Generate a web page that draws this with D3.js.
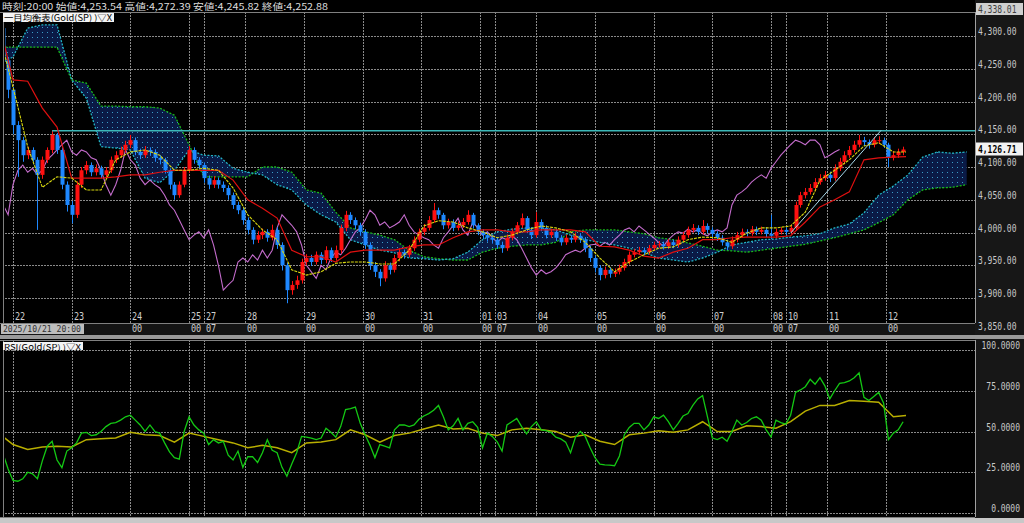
<!DOCTYPE html>
<html><head><meta charset="utf-8">
<script src="https://cdn.jsdelivr.net/npm/d3@7"></script>
<style>body{margin:0;background:#000;overflow:hidden}svg{display:block}</style>
</head><body><svg id="c" width="1024" height="523"></svg>
<script>
// ---------- data ----------
const headerText = "時刻:20:00 始値:4,253.54 高値:4,272.39 安値:4,245.82 終値:4,252.88";
const ichimokuTitle = "一目均衡表(Gold(SP) )▽X";
const rsiTitle = "RSI(Gold(SP) )▽X";
const dateBoxText = "2025/10/21 20:00";
const dayLabels  = ["22","23","24","25","27","28","29","30","31","01","03","04","05","06","07","08","10","11","12"];
const hourLabels = ["","","00","00","07","00","00","00","00","00","07","00","00","00","00","00","07","00","00"];
const dayHours   = [0,24,48,72,78,95,119,143,167,191,197,214,238,262,286,310,316,333,357];
const priceTicks = [3850,3900,3950,4000,4050,4100,4150,4200,4250,4300];
const rsiTicks = [0,25,50,75,100];
const topPrice = 4338.01;
const lastPrice = 4126.71;

// 2-hour candles starting at hour -4 (hour 0 = 10/22 00:00)
const candleStartHour = -4, candleStepHours = 2;
const firstOpen = 4312;
const closes = [4263,4218,4164,4141,4118,4126,4111,4088,4111,4126,
4149,4126,4073,4042,4027,4073,4095,4103,4092,4098,
4088,4095,4111,4118,4126,4134,4141,4123,4118,4126,
4123,4114,4111,4095,4073,4057,4073,4095,4126,4111,
4103,4083,4073,4080,4073,4068,4057,4042,4034,4019,
4004,3989,3996,4001,3992,4004,3981,3950,3912,3920,
3927,3955,3961,3955,3966,3958,3973,3961,3973,4007,
4027,4019,4011,4001,3981,3950,3940,3930,3950,3943,
3961,3970,3966,3976,3989,4001,4007,4019,4034,4027,
4011,4016,4007,4011,4016,4027,4011,4001,3996,3992,
3989,3981,3976,3992,4001,4011,4022,4004,3996,4016,
4007,3996,4001,3992,3985,3992,3989,3995,3989,3976,
3961,3946,3935,3943,3937,3940,3946,3955,3966,3970,
3973,3970,3976,3981,3982,3979,3985,3981,3989,3996,
4004,4007,4001,4010,4004,3998,3992,3985,3979,3989,
3996,4001,3999,4005,4001,4004,3998,3995,4001,4004,
4001,4007,4042,4057,4062,4068,4077,4083,4088,4083,
4098,4108,4118,4126,4134,4141,4138,4134,4141,4141,
4134,4114,4118,4123,4126.71];
const highs = [4318,4268,4222,4170,4146,4131,4130,4115,4116,4130,
4156,4152,4130,4078,4048,4078,4100,4109,4107,4104,
4102,4100,4116,4124,4131,4140,4149,4145,4128,4132,
4130,4127,4118,4114,4098,4077,4078,4100,4132,4130,
4115,4107,4087,4086,4084,4078,4072,4061,4047,4038,
4023,4008,4002,4006,4005,4012,4008,3985,3954,3926,
3934,3960,3967,3966,3971,3970,3979,3977,3980,4012,
4033,4031,4023,4015,4005,3985,3955,3944,3956,3954,
3966,3976,3974,3981,3994,4006,4013,4025,4045,4038,
4030,4021,4020,4017,4022,4034,4030,4014,4005,4000,
3996,3993,3986,3997,4006,4016,4029,4025,4008,4031,
4020,4011,4006,4005,3996,3997,3996,4000,3999,3993,
3980,3965,3950,3948,3947,3945,3951,3960,3971,3975,
3978,3977,3981,3986,3987,3986,3990,3989,3994,4001,
4009,4013,4011,4019,4014,4008,4002,3996,3989,3994,
4001,4006,4005,4010,4009,4009,4008,4027,4006,4008,
4008,4012,4047,4062,4068,4074,4083,4089,4094,4093,
4104,4114,4124,4132,4140,4149,4146,4142,4146,4147,
4145,4137,4124,4128,4131];
const lows = [4250,4205,4150,4085,4108,4112,4104,4004,4082,4106,
4121,4120,4066,4032,4014,4022,4068,4089,4086,4087,
4083,4084,4091,4106,4114,4122,4129,4118,4112,4114,
4117,4108,4104,4090,4066,4050,4053,4069,4091,4105,
4097,4076,4066,4068,4067,4062,4050,4036,4028,4012,
3997,3982,3984,3990,3986,3988,3975,3942,3892,3905,
3914,3922,3950,3949,3951,3952,3953,3955,3957,3968,
4002,4013,4005,3995,3975,3943,3932,3918,3925,3936,
3939,3956,3960,3962,3972,3985,3996,4003,4015,4021,
4005,4006,4002,4003,4007,4012,4006,3996,3990,3986,
3983,3975,3969,3972,3988,3997,4007,3999,3990,3992,
4002,3991,3992,3987,3980,3981,3984,3985,3984,3970,
3955,3939,3927,3930,3931,3932,3936,3942,3951,3962,
3966,3965,3966,3972,3977,3974,3975,3976,3977,3985,
3992,4000,3996,3997,3999,3993,3987,3980,3973,3975,
3985,3992,3994,3995,3996,3997,3993,3990,3991,3997,
3996,3998,4003,4038,4052,4058,4063,4073,4079,4077,
4079,4094,4104,4114,4122,4130,4132,4128,4130,4135,
4129,4100,4110,4114,4118];

// Ichimoku lines, sampled every 6 hours from hour -6
const lineStartHour = -6, lineStepHours = 6;
const tenkan = [4309,4222,4131,4069,4085,4083,4065,4065,4111,4123,
4126,4118,4095,4095,4098,4095,4068,4027,4004,3989,
3943,3935,3940,3953,3955,3955,3952,3952,3973,4010,
4018,4016,4007,4001,3992,3996,4004,4010,4007,4001,
3985,3961,3940,3955,3966,3976,3978,3989,3993,3992,
3985,3999,4007,4007,4010,4031,4080,4095,4111,4132,
4137,4123,4123];
const kijun = [4324,4233,4231,4190,4161,4083,4083,4083,4085,4088,
4088,4092,4095,4095,4095,4095,4080,4050,4037,4022,
3973,3963,3963,3955,3970,3973,3973,3973,3978,3981,
3981,3992,4001,4004,4004,4001,4001,4004,4004,4004,
4001,3979,3978,3973,3964,3961,3970,3976,3989,3989,
3992,3993,3993,3993,3995,4016,4039,4050,4062,4111,
4114,4115,4116];
const senkouA = [4256,4268,4312,4317,4317,4233,4205,4131,4129,4126,
4083,4076,4095,4126,4118,4117,4098,4092,4088,4073,
4065,4042,4027,4016,3989,3981,3973,3969,3961,3960,
3958,3960,3970,3989,4001,4005,4007,4007,4004,3996,
3989,3985,3981,3976,3970,3961,3958,3955,3961,3970,
3981,3985,3989,3990,3993,3995,3998,4007,4013,4030,
4057,4071,4088,4115,4123,4121,4123];
const senkouB = [4283,4283,4283,4283,4283,4233,4228,4193,4193,4192,
4192,4190,4179,4134,4085,4085,4085,4085,4100,4100,
4092,4065,4060,4031,4007,4001,3996,3989,3973,3963,
3960,3958,3958,3970,3976,3979,3981,3981,3985,4001,
4004,4004,4004,4001,3998,3992,3989,3984,3979,3973,
3972,3970,3973,3976,3979,3982,3987,3992,3998,4004,
4015,4027,4050,4065,4068,4069,4073];
const chikouShiftHours = 26;

// RSI (per candle) and its signal (every 6 hours)
const rsi = [36,27,20,19.5,21,25,24,21,32,41,
44,32.5,27.8,38,40,43,49,49.5,47.5,48,
50,53,55,55.5,57,59,60,57,54,50,
54,50,49,43,37.5,34,33,50,59,54,
51,49,42,45,43,44,35.5,32.5,38,28,
34.5,34.5,31,37,45,38.5,37,28,22.5,30,
37,47,46.5,46,45,46,52,49.5,46.5,53,
63.5,64,65,55,48,41.5,34,42,41,40,
51,54,54,53,54,57.5,59.5,61,63,66,
59,51,53.5,58,51,55,56,52.5,40,49,
47,43.6,38,54,56,58,53,48.5,53,56,
51,50.5,49.5,46.5,45.5,43.5,37,46.5,50,47,
40,34,30,29.5,29.4,29,35,48,52.5,55,
55,51,54,59,58,60,56,51,55,59.5,
61,66,70,72,59,46,45,46.5,44,50,
57,54,55.5,58,59,57,51,46.6,57,55.5,
54.5,60,74,75.5,77.5,82,79,83,78,70,
75,79.5,80,81,83,86,71,69,71.5,74,
67.5,45,49,51,56];
const rsiSignal = [49,42,39,40.5,41,40.5,45,45.5,46,49.5,
48,47.5,43.5,49,47,45,43,40,41.5,40,
37,43,43.5,45,51,48,43.5,47.5,49,51.5,
54,51.5,52,49,47.5,51,52,51,50,46.5,
48,44,42,48,49,50.5,49.5,51,56,50,
50,53.5,53,52,56,62.5,66,66,69,68.5,
68,59,60];

// drawn objects
const hLineStartHour = 16, hLinePrice = 4155.4;
const trendHours = [318, 355], trendPrices = [3999, 4156];

// ---------- layout ----------
const svg = d3.select('#c');
const plotL = 5, plotR = 975, topT = 12, topB = 323, rsiT = 340, rsiB = 517;
const x = d3.scaleLinear().domain([0, 357]).range([13, 886]);
const y = d3.scaleLinear().domain([3900, 4300]).range([298, 36]);
const yr = d3.scaleLinear().domain([0, 100]).range([513, 350]);
const mono = "'DejaVu Sans Mono', 'Liberation Mono', monospace";
const jp = "'Noto Sans CJK JP', 'DejaVu Sans', sans-serif";

const defs = svg.append('defs');
defs.append('clipPath').attr('id', 'clipTop').append('rect')
  .attr('x', plotL).attr('y', topT).attr('width', plotR - plotL).attr('height', topB - topT);
defs.append('clipPath').attr('id', 'clipRsi').append('rect')
  .attr('x', plotL).attr('y', rsiT).attr('width', plotR - plotL).attr('height', rsiB - rsiT);
defs.append('clipPath').attr('id', 'clipLines').append('rect')
  .attr('x', plotL).attr('y', topT).attr('width', 906 - plotL).attr('height', topB - topT);
defs.append('clipPath').attr('id', 'clipRsiLines').append('rect')
  .attr('x', plotL).attr('y', rsiT).attr('width', 906 - plotL).attr('height', rsiB - rsiT);
const pat = defs.append('pattern').attr('id', 'kumo').attr('width', 5).attr('height', 5)
  .attr('patternUnits', 'userSpaceOnUse');
pat.append('rect').attr('width', 5).attr('height', 5).attr('fill', '#0a1a46');
pat.append('rect').attr('x', 2).attr('y', 2).attr('width', 1).attr('height', 1).attr('fill', '#3b9cc8');

// backgrounds
svg.append('rect').attr('width', 1024).attr('height', 523).attr('fill', '#000');
svg.append('rect').attr('x', plotR).attr('y', 0).attr('width', 1024 - plotR).attr('height', 523).attr('fill', '#171717');
svg.append('rect').attr('x', 0).attr('y', topB).attr('width', plotR).attr('height', 12).attr('fill', '#141414');
svg.append('rect').attr('x', 0).attr('y', 335).attr('width', 1024).attr('height', 4).attr('fill', '#9a9a9a');
svg.append('rect').attr('x', 0).attr('y', 518).attr('width', 1024).attr('height', 5).attr('fill', '#c8c8c8');

// gridlines
const gTop = svg.append('g').attr('clip-path', 'url(#clipTop)');
const gRsi = svg.append('g').attr('clip-path', 'url(#clipRsi)');
const gridStyle = s => s.attr('stroke', '#8a8a8a').attr('stroke-width', 1).attr('stroke-dasharray', '2,1').attr('shape-rendering', 'crispEdges');
[gTop, gRsi].forEach((g, i) => {
  g.selectAll('line.v').data(dayHours).join('line').attr('class', 'v')
    .attr('x1', d => Math.round(x(d)) + 0.5).attr('x2', d => Math.round(x(d)) + 0.5)
    .attr('y1', i ? rsiT : topT).attr('y2', i ? rsiB : topB).call(gridStyle);
});
gTop.selectAll('line.h').data(priceTicks).join('line').attr('class', 'h')
  .attr('x1', plotL).attr('x2', plotR).attr('y1', d => Math.round(y(d)) + 0.5).attr('y2', d => Math.round(y(d)) + 0.5).call(gridStyle);
gRsi.selectAll('line.h').data(rsiTicks).join('line').attr('class', 'h')
  .attr('x1', plotL).attr('x2', plotR).attr('y1', d => Math.round(yr(d)) + 0.5).attr('y2', d => Math.round(yr(d)) + 0.5).call(gridStyle);

// cloud
const lineH = j => lineStartHour + j * lineStepHours;
const cloud = senkouA.map((a, j) => ({h: lineH(j), a, b: senkouB[j]}));
gTop.append('path').datum(cloud)
  .attr('d', d3.area().x(d => x(d.h)).y0(d => y(d.b)).y1(d => y(d.a)))
  .attr('fill', 'url(#kumo)');
gTop.append('path').datum(cloud).attr('d', d3.line().x(d => x(d.h)).y(d => y(d.b)))
  .attr('fill', 'none').attr('stroke', '#18b818').attr('stroke-width', 1.3).attr('stroke-dasharray', '2,1.5');
gTop.append('path').datum(cloud).attr('d', d3.line().x(d => x(d.h)).y(d => y(d.a)))
  .attr('fill', 'none').attr('stroke', '#22b4c4').attr('stroke-width', 1.3).attr('stroke-dasharray', '2,1.5');

// candles data
const candles = closes.map((c, k) => ({
  h: candleStartHour + k * candleStepHours,
  o: k === 0 ? firstOpen : closes[k - 1], c, hi: highs[k], lo: lows[k]
}));

// chikou span
gTop.append('path').datum(candles)
  .attr('d', d3.line().x(d => x(d.h - chikouShiftHours)).y(d => y(d.c)))
  .attr('fill', 'none').attr('stroke', '#c46ccc').attr('stroke-width', 1.1);

// candles
const cg = gTop.append('g');
cg.selectAll('line').data(candles).join('line')
  .attr('x1', d => Math.round(x(d.h)) + 0.5).attr('x2', d => Math.round(x(d.h)) + 0.5)
  .attr('y1', d => y(d.hi)).attr('y2', d => y(d.lo))
  .attr('stroke', d => d.c >= d.o ? '#ff1010' : '#1e88ff').attr('stroke-width', 1);
cg.selectAll('rect').data(candles).join('rect')
  .attr('x', d => Math.round(x(d.h)) - 1.5).attr('width', 4)
  .attr('y', d => y(Math.max(d.o, d.c)))
  .attr('height', d => Math.max(1, Math.abs(y(d.o) - y(d.c))))
  .attr('fill', d => d.c >= d.o ? '#ff1010' : '#1e88ff');

// kijun / tenkan
const gL = svg.append('g').attr('clip-path', 'url(#clipLines)');
gL.append('path').datum(kijun)
  .attr('d', d3.line().x((d, j) => x(lineH(j))).y(d => y(d)))
  .attr('fill', 'none').attr('stroke', '#e01010').attr('stroke-width', 1.2);
gL.append('path').datum(tenkan)
  .attr('d', d3.line().x((d, j) => x(lineH(j))).y(d => y(d)))
  .attr('fill', 'none').attr('stroke', '#d8d810').attr('stroke-width', 1.1).attr('stroke-dasharray', '3,1');

// horizontal line & trend line
gTop.append('line').attr('x1', x(hLineStartHour)).attr('x2', plotR)
  .attr('y1', y(hLinePrice)).attr('y2', y(hLinePrice))
  .attr('stroke', '#3cb8b8').attr('stroke-width', 1.6);
gTop.append('line').attr('x1', x(trendHours[0])).attr('x2', x(trendHours[1]))
  .attr('y1', y(trendPrices[0])).attr('y2', y(trendPrices[1]))
  .attr('stroke', '#a8d8ec').attr('stroke-width', 1);

// RSI lines
const gR = svg.append('g').attr('clip-path', 'url(#clipRsiLines)');
gR.append('path').datum(rsiSignal)
  .attr('d', d3.line().x((d, j) => x(lineH(j))).y(d => yr(d)))
  .attr('fill', 'none').attr('stroke', '#b8ae00').attr('stroke-width', 1.5);
gR.append('path').datum(rsi)
  .attr('d', d3.line().x((d, k) => x(candleStartHour + k * candleStepHours)).y(d => yr(d)))
  .attr('fill', 'none').attr('stroke', '#14c814').attr('stroke-width', 1.3);

// frames
const frame = (y1, y2) => {
  svg.append('line').attr('x1', plotR + 0.5).attr('x2', plotR + 0.5).attr('y1', y1).attr('y2', y2).attr('stroke', '#a0a0a0');
  svg.append('line').attr('x1', 3.5).attr('x2', 3.5).attr('y1', y1).attr('y2', y2).attr('stroke', '#808080');
  svg.append('line').attr('x1', 0).attr('x2', plotR).attr('y1', y1 + 0.5).attr('y2', y1 + 0.5).attr('stroke', '#808080');
  svg.append('line').attr('x1', 0).attr('x2', plotR).attr('y1', y2 + 0.5).attr('y2', y2 + 0.5).attr('stroke', '#808080');
};
frame(topT, topB);
frame(rsiT, rsiB);

// x labels
svg.selectAll('text.day').data(dayLabels).join('text').attr('class', 'day')
  .attr('transform', (d, i) => `translate(${Math.round(x(dayHours[i])) + 2},320) scale(1,1.2)`)
  .attr('font-family', mono).attr('font-size', 8.5).attr('fill', '#cfcfcf').text(d => d);
svg.selectAll('text.hr').data(hourLabels).join('text').attr('class', 'hr')
  .attr('transform', (d, i) => `translate(${Math.round(x(dayHours[i])) + 2},332) scale(1,1.2)`)
  .attr('font-family', mono).attr('font-size', 8.5).attr('fill', '#cfcfcf').text(d => d);
svg.append('rect').attr('x', 1).attr('y', 324).attr('width', 83).attr('height', 10).attr('fill', '#bdbdbd');
svg.append('text').attr('x', 3).attr('y', 332).attr('font-family', mono).attr('font-size', 9)
  .attr('fill', '#303030').attr('textLength', 78).attr('lengthAdjust', 'spacingAndGlyphs').text(dateBoxText);

// y labels
const fmtP = d3.format(',.2f'), fmtR = d3.format('.4f');
svg.selectAll('text.py').data(priceTicks).join('text').attr('class', 'py')
  .attr('transform', d => `translate(978,${y(d) - 1}) scale(1,1.3)`)
  .attr('font-family', mono).attr('font-size', 8).attr('fill', '#c8c8c8').text(d => fmtP(d));
svg.selectAll('text.ry').data(rsiTicks).join('text').attr('class', 'ry')
  .attr('transform', d => `translate(1020,${yr(d) - 1}) scale(1,1.3)`).attr('text-anchor', 'end')
  .attr('font-family', mono).attr('font-size', 8).attr('fill', '#c8c8c8').text(d => fmtR(d));
svg.append('rect').attr('x', 976).attr('y', 3).attr('width', 47).attr('height', 12).attr('fill', '#cfcfcf');
svg.append('text').attr('transform', 'translate(978,13) scale(1,1.2)').attr('font-family', mono).attr('font-size', 8)
  .attr('fill', '#404040').text(fmtP(topPrice));
svg.append('rect').attr('x', 976).attr('y', y(lastPrice) - 7).attr('width', 47).attr('height', 13).attr('fill', '#f2f2f2');
svg.append('text').attr('transform', `translate(978,${y(lastPrice) + 3.5}) scale(1,1.2)`).attr('font-family', mono).attr('font-size', 8)
  .attr('font-weight', 'bold').attr('fill', '#000').text(fmtP(lastPrice));

// header and legends
svg.append('text').attr('x', 2).attr('y', 10).attr('font-family', jp).attr('font-size', 9)
  .attr('fill', '#dcdcdc').attr('textLength', 326).attr('lengthAdjust', 'spacingAndGlyphs').text(headerText);
svg.append('rect').attr('x', 3).attr('y', 13).attr('width', 111).attr('height', 9).attr('fill', '#f4f4f4');
svg.append('text').attr('x', 4).attr('y', 21).attr('font-family', jp).attr('font-size', 8.5)
  .attr('fill', '#000').attr('textLength', 108).attr('lengthAdjust', 'spacingAndGlyphs').text(ichimokuTitle);
svg.append('rect').attr('x', 3).attr('y', 342).attr('width', 80).attr('height', 8).attr('fill', '#f4f4f4');
svg.append('text').attr('x', 4).attr('y', 349.5).attr('font-family', jp).attr('font-size', 8)
  .attr('fill', '#000').attr('textLength', 77).attr('lengthAdjust', 'spacingAndGlyphs').text(rsiTitle);
</script></body></html>
